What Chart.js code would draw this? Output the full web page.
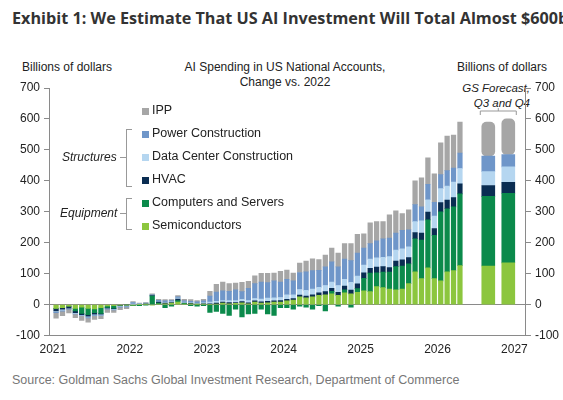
<!DOCTYPE html>
<html>
<head>
<meta charset="utf-8">
<script src="https://cdn.jsdelivr.net/npm/chart.js@4"></script>
<style>
  body { margin: 0; width: 563px; height: 400px; position: relative; background: #fff; font-family: "Liberation Sans", Arial, sans-serif; overflow: hidden; }
  .t { position: absolute; white-space: nowrap; color: #222; }
  #wrap { position: absolute; left: 0; top: 0; width: 563px; height: 400px; }
  .sw { position: absolute; width: 7px; height: 7px; }
</style>
</head>
<body>
<div class="t" style="left:12px;top:7px;font:bold 16.2px 'Open Sans';color:#333;">Exhibit 1: We Estimate That US AI Investment Will Total Almost $600bn</div>
<div class="t" style="left:22px;top:60px;font-size:12px;">Billions of dollars</div>
<div class="t" style="left:457px;top:60px;font-size:12px;">Billions of dollars</div>
<div class="t" style="left:170px;top:60px;width:230px;text-align:center;font-size:12px;line-height:15px;">AI Spending in US National Accounts,<br>Change vs. 2022</div>
<div class="t" style="left:448px;top:81px;width:82px;text-align:right;font-size:11.5px;font-style:italic;line-height:15px;">GS Forecast,<br>Q3 and Q4</div>
<div class="t" style="left:12px;top:373px;font-size:12.5px;color:#777;">Source: Goldman Sachs Global Investment Research, Department of Commerce</div>
<div id="wrap"><canvas id="c" width="563" height="400"></canvas></div>
<div id="legend"></div>
<script>
// months Jan 2021 .. Apr 2026, then two forecast quarters
const monthCount = 64;
const forecastX = [2026.66, 2026.92];
const seriesNames = ["Semiconductors", "Computers and Servers", "HVAC", "Data Center Construction", "Power Construction", "IPP"];
const seriesColors = ["#8cc63e", "#0b8a4b", "#0a2d52", "#b5d6f0", "#6f96c9", "#a6a6a6"];

const semis = [-12,-10,-5,-12,-8,-12,-14,-10,-4,-3,-2,-1,
  -2,0,1,-1,2,3,5,8,2,3,1,2,
  0,2,5,3,4,6,3,8,5,6,8,8,
  12,15,25,22,25,30,32,35,30,38,35,40,
  45,42,58,55,50,48,50,68,106,84,119,84,
  77,106,110,126];
const computers = [0,0,0,-8,-20,-20,-12,-18,-5,-8,0,0,
  -1,-3,-1,28,3,-10,-5,5,2,-3,-5,-3,
  -25,-22,-28,-35,-15,-40,-30,-28,-15,-30,-35,-10,
  -10,-15,-5,-8,-15,-3,-20,8,-5,10,-8,12,
  40,60,45,50,55,75,75,64,107,125,155,140,
  223,204,206,232];
const hvac = [-8,-5,-6,-6,-4,-5,-5,-3,-2,-2,-1,-1,
  0,0,1,1,3,2,2,5,1,1,1,1,
  3,3,3,4,3,4,3,4,4,5,4,5,
  5,5,6,6,7,8,10,10,10,12,12,15,
  18,15,18,18,15,18,20,20,20,22,25,22,
  30,28,30,32];
const dataCenter = [-3,-3,-2,-2,-2,-3,-2,-2,-2,-2,-2,-2,
  2,1,0,1,1,2,2,3,3,2,2,3,
  5,6,5,6,6,7,7,8,9,10,10,10,
  15,12,18,18,18,18,20,20,22,22,25,25,
  25,30,30,30,35,35,35,35,35,40,40,40,
  45,45,50,50];
const power = [-3,-3,-2,-2,-2,-3,-3,-2,-2,-2,-3,-3,
  5,2,3,2,5,5,4,4,4,5,5,6,
  20,30,32,30,35,25,40,48,55,50,55,50,
  50,45,55,60,60,55,60,65,60,65,70,75,
  55,50,55,60,60,55,60,55,55,45,50,45,
  45,50,45,50];
const ipp = [-18,-15,-12,-12,-15,-14,-12,-10,-10,-8,-8,-6,
  3,2,2,3,3,4,3,4,5,5,4,5,
  15,25,28,25,22,30,22,25,28,30,25,35,
  30,25,30,35,38,35,38,45,45,50,55,60,
  46,67,62,55,75,72,54,64,77,94,85,92,
  103,112,107,100];
const forecast = [[125,135],[225,225],[35,35],[45,50],[50,40],[110,115]];

const yTicks = [-100, 0, 100, 200, 300, 400, 500, 600, 700];
const yearTicks = [2021, 2022, 2023, 2024, 2025, 2026, 2027];

const monthly = [semis, computers, hvac, dataCenter, power, ipp];
const monthX = Array.from({ length: monthCount }, (_, i) => 2021 + (i + 0.5) / 12);

const datasets = [];
monthly.forEach((vals, s) => {
  datasets.push({
    label: seriesNames[s],
    data: vals.map((v, i) => ({ x: monthX[i], y: v })),
    backgroundColor: seriesColors[s],
    stack: "m",
    barThickness: 4.6,
  });
});
forecast.forEach((vals, s) => {
  datasets.push({
    label: seriesNames[s] + " forecast",
    data: vals.map((v, i) => ({ x: forecastX[i], y: v })),
    backgroundColor: seriesColors[s],
    stack: "f",
    barThickness: 13,
    borderRadius: s === 0 || s === 5 ? 5 : 0,
    borderSkipped: false,
  });
});

const axisColor = "#8a8a8a";
const tickFont = { family: "Liberation Sans", size: 12 };

new Chart(document.getElementById("c"), {
  type: "bar",
  data: { datasets },
  options: {
    responsive: false,
    animation: false,
    grouped: false,
    layout: { padding: { top: 88, left: 12, right: 0, bottom: 40 } },
    plugins: { legend: { display: false }, tooltip: { enabled: false } },
    scales: {
      x: {
        type: "linear",
        offset: false,
        min: 2020.95,
        max: 2027.15,
        afterBuildTicks: (ax) => { ax.ticks = yearTicks.map((v) => ({ value: v })); },
        ticks: { color: "#222", font: tickFont, callback: (v) => v, maxRotation: 0 },
        grid: { display: false, drawTicks: true, tickLength: 4, tickColor: axisColor },
        border: { color: axisColor },
      },
      y: {
        stacked: true,
        min: -100,
        max: 700,
        afterBuildTicks: (ax) => { ax.ticks = yTicks.map((v) => ({ value: v })); },
        ticks: { color: "#222", font: tickFont, padding: 4 },
        grid: {
          color: (c) => (c.tick && c.tick.value === 0 ? axisColor : "transparent"),
          tickColor: axisColor,
          tickLength: 5,
        },
        border: { color: axisColor },
      },
      y2: {
        position: "right",
        min: -100,
        max: 700,
        afterBuildTicks: (ax) => { ax.ticks = yTicks.map((v) => ({ value: v })); },
        ticks: { color: "#222", font: tickFont, padding: 4 },
        grid: { drawOnChartArea: false, tickColor: axisColor, tickLength: 5 },
        border: { color: axisColor },
      },
    },
  },
  plugins: [{
    id: "brackets",
    afterDraw(chart) {
      const g = chart.ctx;
      const xs = chart.scales.x;
      g.save();
      g.strokeStyle = "#999";
      g.lineWidth = 1;
      const a = xs.getPixelForValue(forecastX[0]) - 8;
      const b = xs.getPixelForValue(forecastX[1]) + 8;
      g.beginPath();
      g.moveTo(a, 115); g.lineTo(a, 111); g.lineTo(b, 111); g.lineTo(b, 115);
      g.moveTo((a + b) / 2, 111); g.lineTo((a + b) / 2, 108);
      g.stroke();
      g.restore();
    },
  }],
});

// legend, top to bottom
const legend = document.getElementById("legend");
const legendOrder = [5, 4, 3, 2, 1, 0];
legendOrder.forEach((s, k) => {
  const y = 105 + k * 23;
  legend.insertAdjacentHTML("beforeend",
    `<div class="sw" style="left:142px;top:${y + 3}px;background:${seriesColors[s]}"></div>` +
    `<div class="t" style="left:152px;top:${y - 2}px;font-size:12.5px;">${s === 5 ? "IPP" : seriesNames[s]}</div>`);
});
legend.insertAdjacentHTML("beforeend",
  `<div class="t" style="left:62px;top:150px;font-size:12px;font-style:italic;">Structures</div>` +
  `<div class="t" style="left:60px;top:206px;font-size:12px;font-style:italic;">Equipment</div>` +
  `<div style="position:absolute;left:126px;top:129px;width:5px;height:56px;border:1px solid #999;border-right:none;"></div>` +
  `<div style="position:absolute;left:120px;top:157px;width:6px;border-top:1px solid #999;"></div>` +
  `<div style="position:absolute;left:126px;top:198px;width:5px;height:30px;border:1px solid #999;border-right:none;"></div>` +
  `<div style="position:absolute;left:120px;top:213px;width:6px;border-top:1px solid #999;"></div>`);
</script>
</body>
</html>
